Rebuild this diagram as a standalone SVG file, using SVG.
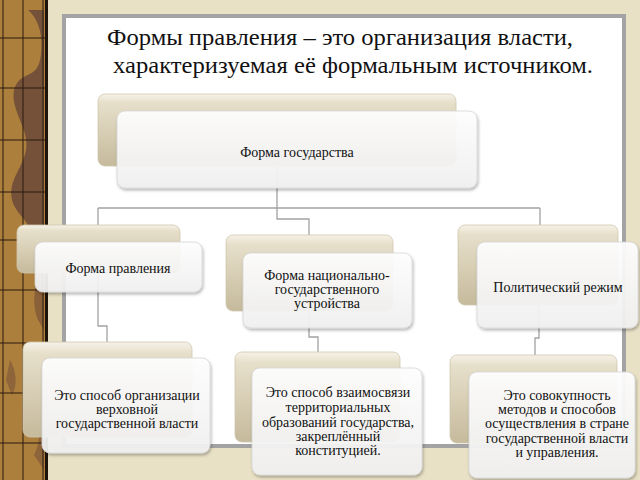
<svg xmlns="http://www.w3.org/2000/svg" width="640" height="480" viewBox="0 0 640 480">
<defs>
<style>
.back{fill:url(#gBack);stroke:#cfc6ae;stroke-width:0.8}
.front{fill:url(#gFront);fill-opacity:0.93;stroke:#d6d6d6;stroke-width:0.8;filter:url(#sh)}
.t{font-family:"Liberation Serif","Times New Roman",serif;font-size:14px;fill:#111;text-anchor:middle}
.title{font-family:"Liberation Serif","Times New Roman",serif;font-size:23px;fill:#111}
.conn{fill:none;stroke:#a2a2a2;stroke-width:1.3}
.grid{stroke:#2a1a0e;stroke-width:1}
</style>
<linearGradient id="gBack" x1="0" y1="0" x2="0" y2="1">
<stop offset="0" stop-color="#f6f2e8"/>
<stop offset="0.12" stop-color="#e6dfca"/>
<stop offset="1" stop-color="#c6ba9c"/>
</linearGradient>
<linearGradient id="gFront" x1="0" y1="0" x2="0" y2="1">
<stop offset="0" stop-color="#ffffff"/>
<stop offset="1" stop-color="#f1f1f1"/>
</linearGradient>
<filter id="sh" x="-10%" y="-10%" width="130%" height="140%">
<feDropShadow dx="1" dy="2" stdDeviation="1.5" flood-color="#000" flood-opacity="0.3"/>
</filter>
</defs>

<rect x="0" y="0" width="640" height="480" fill="#e9e1c6"/>
<g id="strip">
<rect x="0" y="0" width="46" height="480" fill="#ad7f3c"/>
<path d="M28 10 C40 20 44 40 40 60 C36 80 20 70 14 90 C10 110 30 130 26 150 C22 170 8 180 12 200 C16 215 30 220 34 240 C38 250 44 250 44 240 L44 10 Z" fill="#6e4c37" opacity="0.9"/>
<path d="M44 260 C36 280 30 300 38 320 L44 330 Z" fill="#7a5238" opacity="0.7"/>
<path d="M10 360 C16 370 18 385 12 395 L6 380 Z" fill="#7a5238" opacity="0.6"/>
<path d="M30 410 C40 420 42 440 34 455 L44 470 L44 405 Z" fill="#7a5238" opacity="0.6"/>
<line class="grid" x1="3" y1="0" x2="3" y2="480"/>
<line class="grid" x1="23" y1="0" x2="23" y2="480"/>
<line class="grid" x1="43" y1="0" x2="43" y2="480"/>
<line class="grid" x1="0" y1="38" x2="46" y2="38"/>
<line class="grid" x1="0" y1="88" x2="46" y2="88"/>
<line class="grid" x1="0" y1="140" x2="46" y2="140"/>
<line class="grid" x1="0" y1="192" x2="46" y2="192"/>
<line class="grid" x1="0" y1="240" x2="46" y2="240"/>
<line class="grid" x1="0" y1="290" x2="46" y2="290"/>
<line class="grid" x1="0" y1="343" x2="46" y2="343"/>
<line class="grid" x1="0" y1="393" x2="46" y2="393"/>
<line class="grid" x1="0" y1="443" x2="46" y2="443"/>
<rect x="45" y="0" width="3" height="480" fill="#1e140c"/>
</g>
<rect x="64" y="16" width="560" height="430" fill="#ffffff" stroke="#a3a3a3" stroke-width="4"/>

<text class="title" x="107" y="45" textLength="466" lengthAdjust="spacingAndGlyphs">Формы правления – это организация власти,</text>
<text class="title" x="113" y="73" textLength="480" lengthAdjust="spacingAndGlyphs">характеризуемая её формальным источником.</text>

<g id="connectors">
<path class="conn" d="M277 165 V208"/>
<path class="conn" d="M98 208 H540"/>
<path class="conn" d="M98 208 V226"/>
<path class="conn" d="M540 208 V226"/>
<path class="conn" d="M277 208 V219 H309 V236"/>
<path class="conn" d="M98 272 V326 H107 V343"/>
<path class="conn" d="M309 310 V337 H318 V353"/>
<path class="conn" d="M539 305 V338 H535 V356"/>
</g>

<g id="node-top">
<rect class="back" x="98" y="94" width="358" height="72" rx="7"/>
<rect class="front" x="117" y="111" width="360" height="77" rx="8"/>
<text class="t" x="297" y="157">Форма государства</text>
</g>

<g id="node-pravlenie">
<rect class="back" x="17" y="225" width="163" height="48" rx="7"/>
<rect class="front" x="35" y="242" width="167" height="50" rx="8"/>
<text class="t" x="118" y="273">Форма правления</text>
</g>

<g id="node-ustroistvo">
<rect class="back" x="226" y="235" width="167" height="76" rx="7"/>
<rect class="front" x="243" y="253" width="169" height="75" rx="8"/>
<text class="t" x="327" y="280">Форма национально-</text>
<text class="t" x="327" y="294">государственного</text>
<text class="t" x="327" y="308">устройства</text>
</g>

<g id="node-rezhim">
<rect class="back" x="458" y="225" width="160" height="80" rx="7"/>
<rect class="front" x="477" y="242" width="161" height="86" rx="8"/>
<text class="t" x="558" y="292">Политический режим</text>
</g>

<g id="node-def1">
<rect class="back" x="23" y="342" width="169" height="95" rx="7"/>
<rect class="front" x="42" y="358" width="168" height="95" rx="8"/>
<text class="t" x="127" y="400">Это способ организации</text>
<text class="t" x="127" y="414">верховной</text>
<text class="t" x="127" y="428">государственной власти</text>
</g>

<g id="node-def2">
<rect class="back" x="235" y="352" width="165" height="90" rx="7"/>
<rect class="front" x="252" y="368" width="170" height="107" rx="8"/>
<text class="t" x="338" y="397">Это способ взаимосвязи</text>
<text class="t" x="338" y="412">территориальных</text>
<text class="t" x="338" y="427">образований государства,</text>
<text class="t" x="338" y="441">закреплённый</text>
<text class="t" x="338" y="455">конституцией.</text>
</g>

<g id="node-def3">
<rect class="back" x="450" y="355" width="167" height="88" rx="7"/>
<rect class="front" x="469" y="372" width="166" height="106" rx="8"/>
<text class="t" x="557" y="400">Это совокупность</text>
<text class="t" x="557" y="414">методов и способов</text>
<text class="t" x="557" y="428">осуществления в стране</text>
<text class="t" x="557" y="443">государственной власти</text>
<text class="t" x="557" y="457">и управления.</text>
</g>
</svg>
